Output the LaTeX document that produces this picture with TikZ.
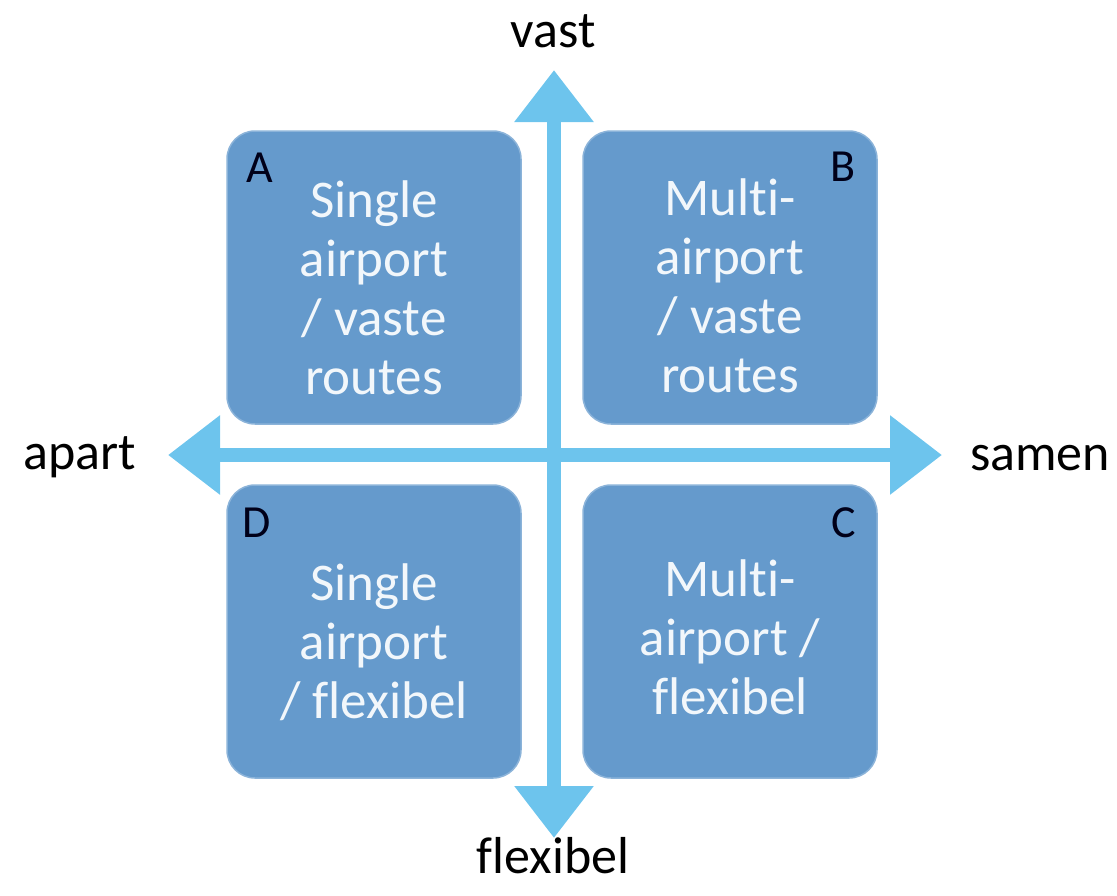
\documentclass[tikz,border=0pt]{standalone}
\usepackage{fontspec}
\setmainfont{Carlito}[Ligatures=NoCommon]
\usepackage{tikz}
\usetikzlibrary{positioning, calc}
\usetikzlibrary{arrows.meta}
\definecolor{quadblue}{RGB}{101,154,204}
\definecolor{axisblue}{RGB}{109,196,237}
\definecolor{quadtextcol}{RGB}{242,247,251}
\tikzstyle{quadbox}=[rectangle,rounded corners=28pt,fill=quadblue,draw=quadblue!75!white,line width=1.5pt,minimum width=294pt,minimum height=293pt]
\tikzstyle{quadtext}=[align=center,text=quadtextcol,font=\fontsize{53}{59}\selectfont]
\tikzstyle{cornerlabel}=[inner sep=0pt,text=black!90!blue,font=\fontsize{46}{52}\selectfont]
\tikzstyle{axislabel}=[inner sep=0pt,anchor=base,font=\fontsize{52}{60}\selectfont]
\tikzstyle{axispath} = [axisblue,line width=14pt,
{Triangle[length=52pt,width=76pt]}-{Triangle[length=52pt,width=76pt]}]

\begin{document}
\begin{tikzpicture}[x=1pt,y=-1pt]
        \useasboundingbox (0,0) rectangle (1117,895);

        % axes
        \coordinate (north) at (554,70);
        \coordinate (south) at (554,838);
        \coordinate (west) at (168,455);
        \coordinate (east) at (942,455);
        \draw[axispath] (south) -- (north);
        \draw[axispath] (west) -- (east);

        \node[axislabel] (vast) at (553,47) {vast};
        \node[axislabel] (flex) at (553,873) {flexibel};
        \node[axislabel] (apart) at (80,469) {apart};
        \node[axislabel] (samen) at (1040,470) {samen};

        % quadrants
        \node[quadbox] (boxA) at (374,277.5) {};
        \node[quadbox] (boxB) at (730,277.5) {};
        \node[quadbox] (boxD) at (374,631.5) {};
        \node[quadbox] (boxC) at (730,631.5) {};

        \node[quadtext] (txtA) at ($(boxA.center)+(0,10)$) {Single\\airport\\/ vaste\\routes};
        \node[quadtext] (txtB) at ($(boxB.center)+(0,8)$) {Multi-\\airport\\/ vaste\\routes};
        \node[quadtext] (txtD) at ($(boxD.center)+(0,11)$) {Single\\airport\\/ flexibel};
        \node[quadtext] (txtC) at ($(boxC.center)+(0,6)$) {Multi-\\airport /\\flexibel};

        \node[cornerlabel, anchor=base west] (labA) at ($(boxA.north west)+(20,52)$) {A};
        \node[cornerlabel, anchor=base east] (labB) at ($(boxB.north east)+(-22,51)$) {B};
        \node[cornerlabel, anchor=base west] (labD) at ($(boxD.north west)+(16,53)$) {D};
        \node[cornerlabel, anchor=base east] (labC) at ($(boxC.north east)+(-22,53)$) {C};
\end{tikzpicture}
\end{document}
